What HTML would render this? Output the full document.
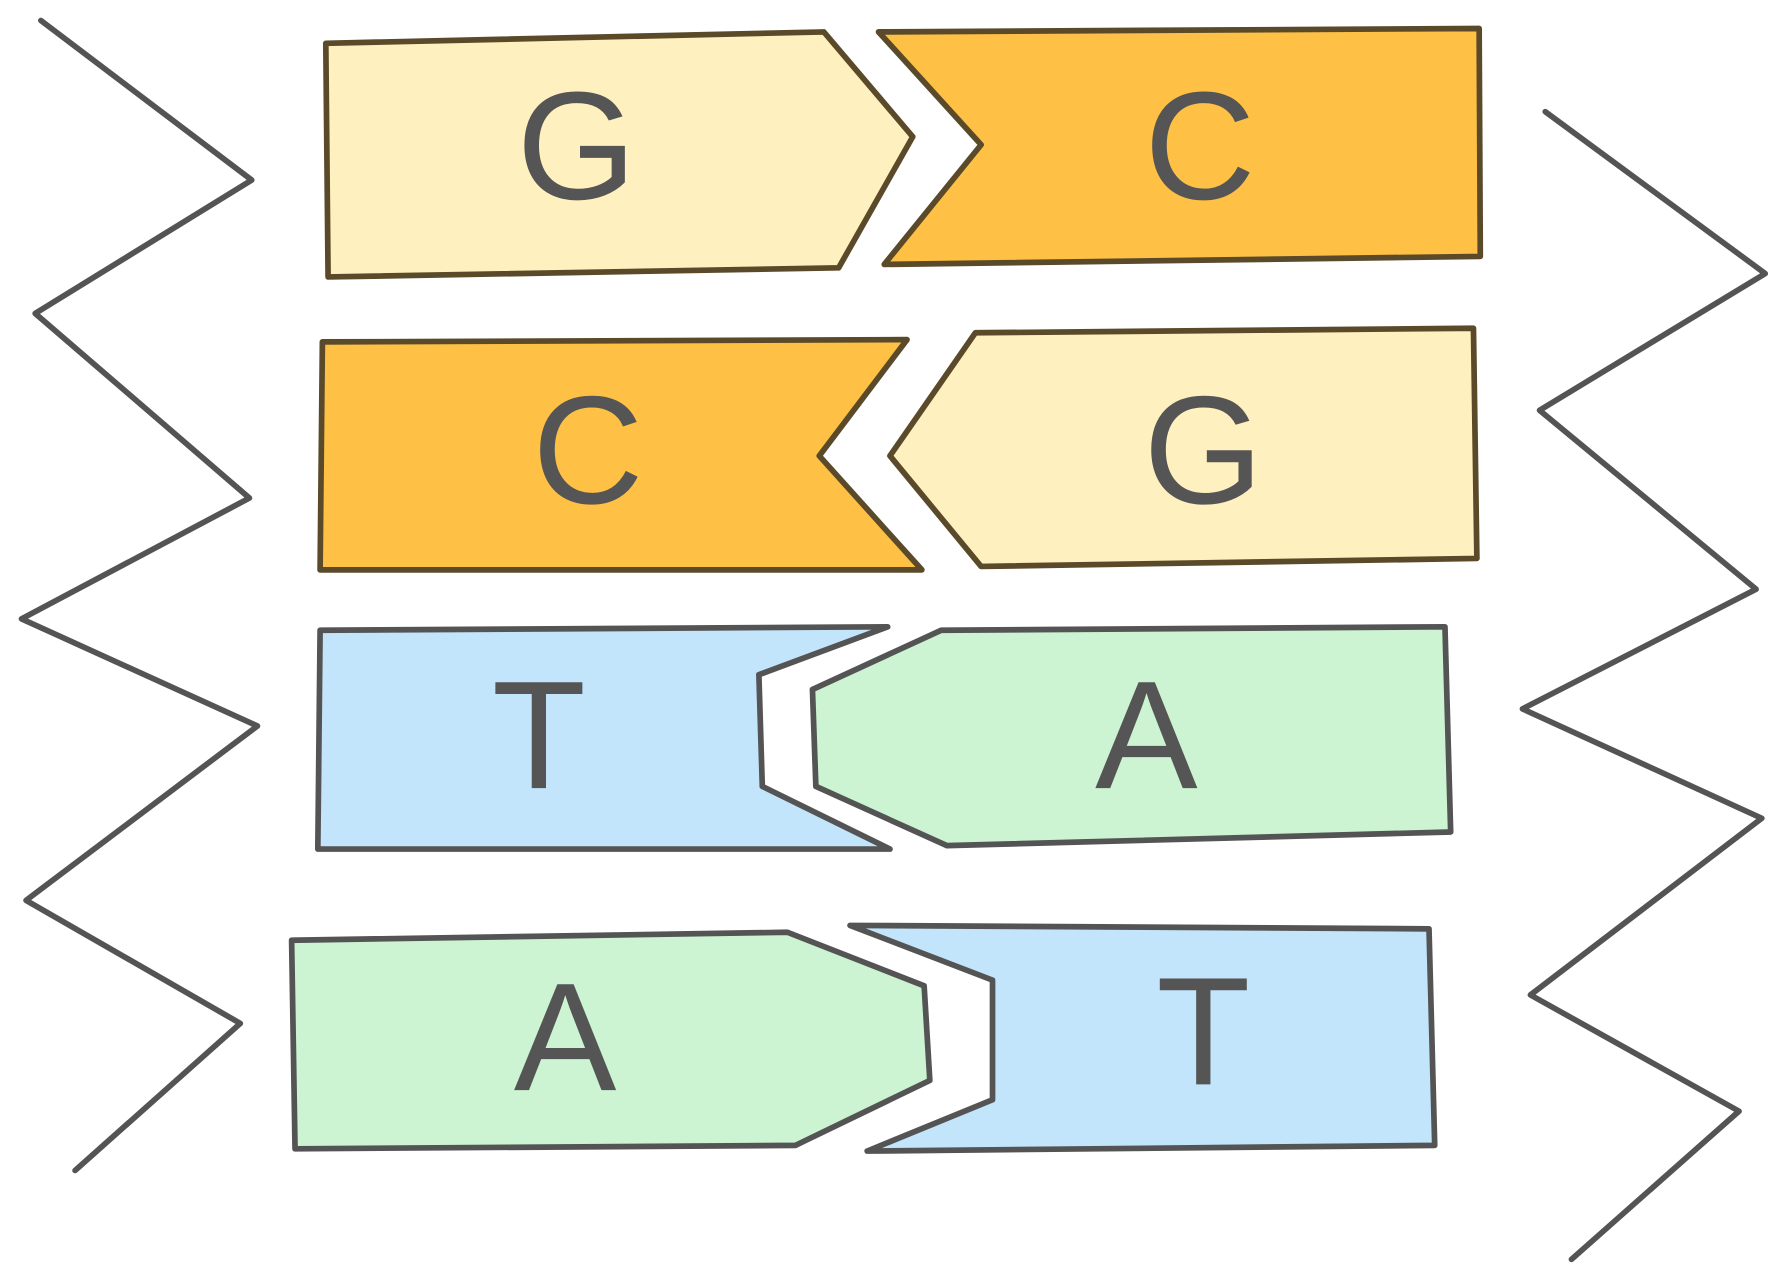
<!DOCTYPE html>
<html><head><meta charset="utf-8"><style>
html,body{margin:0;padding:0;background:#fff;}
svg{display:block;}
text{font-family:"Liberation Sans",sans-serif;font-weight:normal;font-size:135px;fill:#555;text-anchor:middle;dominant-baseline:central;}
</style></head><body>
<svg width="1789" height="1281" viewBox="0 0 1568 1124" xmlns="http://www.w3.org/2000/svg">
<g stroke-linejoin="round" stroke-linecap="round" stroke-width="5">
<polygon points="285,38 722,28 800,120 735,235 287,243" fill="#FFF1BF" stroke="#5a4a2a"/>
<polygon points="770,28 1297,25 1298,225 775,232 860,127" fill="#FFC145" stroke="#5a4a2a"/>
<polygon points="282,300 795,298 718,400 808,500 280,500" fill="#FFC145" stroke="#5a4a2a"/>
<polygon points="855,292 1292,288 1295,490 860,497 780,400" fill="#FFF1BF" stroke="#5a4a2a"/>
<polygon points="280,553 778,550 665,592 668,690 780,745 278,745" fill="#C3E5FC" stroke="#545454"/>
<polygon points="825,553 1267,550 1272,730 830,742 715,690 712,605" fill="#CCF4D3" stroke="#545454"/>
<polygon points="255,825 690,818 810,865 815,948 697,1005 258,1008" fill="#CCF4D3" stroke="#545454"/>
<polygon points="745,812 1253,815 1258,1005 760,1010 870,965 870,860" fill="#C3E5FC" stroke="#545454"/>
<polyline points="35,18 220,158 30,275 218,437 18,543 225,637 22,790 210,898 65,1027" fill="none" stroke="#545454"/>
<polyline points="1355,98 1548,240 1350,360 1540,517 1335,622 1545,718 1342,873 1525,975 1378,1105" fill="none" stroke="#545454"/>
</g>
<text x="505" y="128">G</text>
<text x="1052" y="128">C</text>
<text x="515" y="395">C</text>
<text x="1055" y="395">G</text>
<text x="472" y="645">T</text>
<text x="1005" y="645">A</text>
<text x="495" y="910">A</text>
<text x="1055" y="905">T</text>
</svg>
</body></html>
